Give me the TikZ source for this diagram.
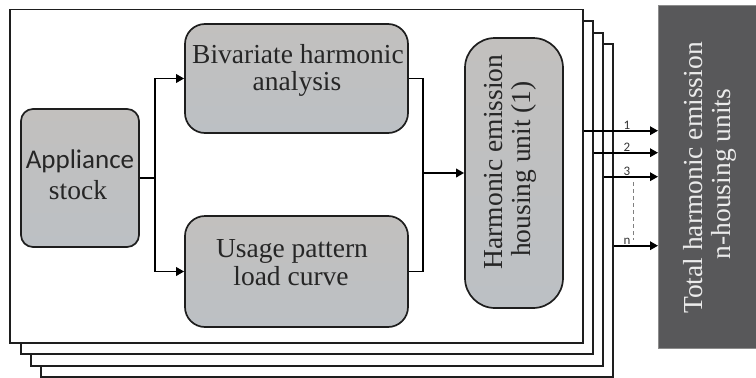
\documentclass[tikz,border=0pt]{standalone}
\usepackage{fontspec}
\setmainfont{Liberation Serif}
\newfontfamily\calib{Carlito}
\usetikzlibrary{arrows.meta}
\definecolor{boxtop}{HTML}{C2C0BE}
\definecolor{boxbot}{HTML}{BCC0C4}
\definecolor{darkbox}{HTML}{58585A}
\definecolor{linec}{HTML}{1E1E1E}
\tikzset{
  frame/.style={draw=linec, line width=1.6pt, fill=white},
  procbox/.style={draw=linec, line width=1.7pt, top color=boxtop, bottom color=boxbot, inner sep=0pt},
  txt/.style={font=\fontsize{27.5}{28}\selectfont, text=black!85, inner sep=0pt, anchor=base},
  arr/.style={draw=black, line width=1.8pt, -{Triangle[length=8pt,width=8.5pt]}},
  conn/.style={draw=black, line width=1.8pt},
  lab/.style={font=\calib\fontsize{13}{13}\selectfont, text=black!80, inner sep=0pt, anchor=base},
}
\begin{document}
\begin{tikzpicture}[x=1pt,y=-1pt]
\useasboundingbox (0,0) rectangle (756,378);
% stacked frames (back to front)
\node[frame, minimum width=572pt, minimum height=332.7pt, inner sep=0pt] (f4) at (327,210.35) {};
\node[frame, minimum width=572pt, minimum height=332.7pt, inner sep=0pt] (f3) at (317,199.35) {};
\node[frame, minimum width=571.7pt, minimum height=333pt, inner sep=0pt] (f2) at (306.85,187.5) {};
\node[frame, minimum width=572.7pt, minimum height=333.5pt, inner sep=0pt] (f1) at (296.35,176.25) {};
% total box
\node[draw=black!45, line width=0.6pt, fill=darkbox, minimum width=98pt, minimum height=343pt, inner sep=0pt] (tot) at (707,176.5) {};
\node[txt, text=white!92!black, rotate=90] (tot1) at (702,178) {Total harmonic emission};
\node[txt, text=white!92!black, rotate=90] (tot2) at (730,174) {n-housing units};
% process boxes
\node[procbox, rounded corners=12pt, minimum width=118pt, minimum height=138pt] (app) at (80,178) {};
\node[txt, font=\calib\fontsize{27}{28}\selectfont] (app1) at (80,168) {Appliance};
\node[txt] (app2) at (78,199) {stock};
\node[procbox, rounded corners=20pt, minimum width=223pt, minimum height=109pt] (biv) at (296.5,78.5) {};
\node[txt] (biv1) at (298,63) {Bivariate harmonic};
\node[txt] (biv2) at (297,90) {analysis};
\node[procbox, rounded corners=20pt, minimum width=223pt, minimum height=111pt] (use) at (296.5,271.5) {};
\node[txt] (use1) at (292,257) {Usage pattern};
\node[txt] (use2) at (291,285) {load curve};
\node[procbox, rounded corners=30pt, minimum width=98pt, minimum height=270pt] (har) at (514,173) {};
\node[txt, rotate=90] (har1) at (502,162) {Harmonic emission};
\node[txt, rotate=90] (har2) at (530,169) {housing unit (1)};
% internal connectors
\coordinate (j1) at (155,178);
\coordinate (j2) at (423,173);
\draw[conn] (app.east) -- (j1);
\draw[arr] (j1) |- (biv.west);
\draw[arr] (j1) |- (use.west);
\draw[conn] (biv.east) -| (j2);
\draw[conn] (use.east) -| (j2);
\draw[arr] (j2) -- (har.west);
% outputs
\coordinate (t1) at (658,130.7);
\coordinate (t2) at (658,152.7);
\coordinate (t3) at (658,176.7);
\coordinate (tn) at (658,245.7);
\draw[arr] (f1.east |- t1) -- (t1);
\draw[arr] (f2.east |- t2) -- (t2);
\draw[arr] (f3.east |- t3) -- (t3);
\draw[arr] (f4.east |- tn) -- (tn);
\node[lab] (l1) at (627,129) {1};
\node[lab] (l2) at (627,151) {2};
\node[lab] (l3) at (627,175) {3};
\node[lab] (ln) at (627,244) {n};
\coordinate (d1) at (633,182);
\coordinate (d2) at (633,240);
\draw[black!50, line width=0.8pt, dash pattern=on 4pt off 3pt] (d1) -- (d2);
\end{tikzpicture}
\end{document}
